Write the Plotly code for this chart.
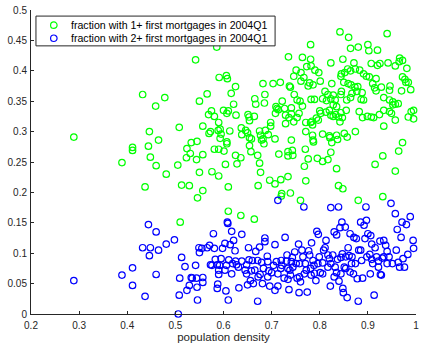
import plotly.graph_objects as go

# population density (x) and fraction of borrowers (y) per region
green_x = [0.842, 0.940, 0.860, 0.586, 0.781, 0.880, 0.900, 0.864, 0.920, 0.902,
           0.542, 0.735, 0.764, 0.781, 0.848, 0.966, 0.972, 0.823, 0.871, 0.907,
           0.925, 0.920, 0.942, 0.965, 0.957, 0.981, 0.773, 0.782, 0.751, 0.790,
           0.798, 0.858, 0.864, 0.874, 0.883, 0.852, 0.845, 0.844, 0.891, 0.897,
           0.903, 0.917, 0.972, 0.977, 0.984, 0.979, 0.761, 0.746, 0.767, 0.761,
           0.779, 0.786, 0.776, 0.801, 0.737, 0.739, 0.718, 0.703, 0.682, 0.591,
           0.606, 0.608, 0.625, 0.850, 0.859, 0.865, 0.825, 0.873, 0.879, 0.910,
           0.914, 0.928, 0.946, 0.945, 0.989, 0.970,
           0.432, 0.478, 0.459, 0.566, 0.550, 0.616, 0.621, 0.665, 0.667, 0.686,
           0.685, 0.747, 0.753, 0.759, 0.782, 0.789, 0.764, 0.722, 0.709, 0.714,
           0.727, 0.741, 0.811, 0.817, 0.828, 0.806, 0.814, 0.823, 0.832, 0.828,
           0.835, 0.844, 0.845, 0.856, 0.864, 0.867, 0.877, 0.888, 0.886, 0.891,
           0.917, 0.933, 0.945, 0.952, 0.957, 0.963, 0.952, 0.933, 0.995,
           0.575, 0.581, 0.569, 0.600, 0.607, 0.610, 0.626, 0.651, 0.653, 0.654,
           0.664, 0.557, 0.508, 0.446, 0.465, 0.590, 0.573, 0.570, 0.589, 0.593,
           0.595, 0.613, 0.637, 0.638, 0.646, 0.650, 0.654, 0.658, 0.675, 0.677,
           0.687, 0.682, 0.693, 0.698, 0.698, 0.707, 0.708, 0.711, 0.729, 0.729,
           0.736, 0.741, 0.746, 0.753, 0.757, 0.771, 0.781, 0.785, 0.784, 0.793,
           0.797, 0.800, 0.802, 0.813, 0.820, 0.823, 0.828, 0.833, 0.839, 0.842,
           0.847, 0.844, 0.855, 0.882, 0.889, 0.899, 0.907, 0.912, 0.924, 0.933,
           0.945, 0.949, 0.957, 0.984, 0.995, 0.806, 0.820, 0.821, 0.835, 0.837,
           0.851, 0.857, 0.874, 0.771, 0.785, 0.786, 0.787, 0.741, 0.743, 0.734,
           0.734, 0.744, 0.715, 0.770, 0.795, 0.806, 0.817, 0.823, 0.835, 0.839,
           0.848, 0.880, 0.931, 0.915, 0.931, 0.964, 0.972, 0.957, 0.990,
           0.289, 0.389, 0.411, 0.411, 0.437, 0.444, 0.448, 0.460, 0.481, 0.505,
           0.513, 0.510, 0.524, 0.529, 0.533, 0.523, 0.531, 0.544, 0.545, 0.550,
           0.557, 0.546, 0.557, 0.576, 0.581, 0.590, 0.590, 0.593, 0.601, 0.604,
           0.607, 0.607, 0.610, 0.610, 0.625, 0.628, 0.636, 0.636, 0.654, 0.657,
           0.664, 0.671, 0.675, 0.677, 0.672, 0.679, 0.684, 0.696, 0.707, 0.719,
           0.721, 0.734, 0.739, 0.720, 0.760, 0.771, 0.768, 0.776, 0.825]
green_y = [0.464, 0.461, 0.455, 0.439, 0.443, 0.439, 0.443, 0.437, 0.434, 0.433,
           0.418, 0.423, 0.422, 0.419, 0.419, 0.421, 0.417, 0.413, 0.413, 0.412,
           0.412, 0.409, 0.413, 0.415, 0.408, 0.404, 0.407, 0.408, 0.401, 0.401,
           0.397, 0.403, 0.400, 0.403, 0.401, 0.397, 0.395, 0.391, 0.395, 0.391,
           0.390, 0.387, 0.390, 0.386, 0.381, 0.381, 0.397, 0.391, 0.389, 0.383,
           0.380, 0.377, 0.375, 0.383, 0.375, 0.373, 0.381, 0.379, 0.379, 0.389,
           0.392, 0.387, 0.374, 0.381, 0.379, 0.377, 0.379, 0.373, 0.374, 0.379,
           0.372, 0.373, 0.375, 0.368, 0.369, 0.367,
           0.361, 0.356, 0.342, 0.362, 0.350, 0.363, 0.345, 0.354, 0.345, 0.361,
           0.347, 0.361, 0.352, 0.350, 0.353, 0.353, 0.342, 0.350, 0.341, 0.336,
           0.338, 0.339, 0.366, 0.361, 0.360, 0.354, 0.351, 0.354, 0.352, 0.344,
           0.341, 0.361, 0.366, 0.352, 0.356, 0.363, 0.366, 0.364, 0.353, 0.352,
           0.367, 0.356, 0.352, 0.349, 0.345, 0.346, 0.344, 0.335, 0.335,
           0.334, 0.325, 0.328, 0.335, 0.330, 0.334, 0.327, 0.328, 0.324, 0.318,
           0.325, 0.309, 0.307, 0.300, 0.286, 0.315, 0.300, 0.297, 0.302, 0.304,
           0.296, 0.301, 0.306, 0.295, 0.302, 0.298, 0.290, 0.288, 0.301, 0.294,
           0.302, 0.288, 0.295, 0.309, 0.315, 0.288, 0.330, 0.338, 0.327, 0.313,
           0.323, 0.329, 0.316, 0.323, 0.330, 0.315, 0.315, 0.311, 0.317, 0.322,
           0.319, 0.334, 0.330, 0.332, 0.335, 0.327, 0.325, 0.328, 0.324, 0.316,
           0.323, 0.331, 0.335, 0.333, 0.323, 0.325, 0.324, 0.323, 0.328, 0.309,
           0.333, 0.330, 0.319, 0.324, 0.321, 0.296, 0.293, 0.290, 0.294, 0.287,
           0.297, 0.291, 0.300, 0.300, 0.294, 0.286, 0.283, 0.286, 0.269, 0.267,
           0.260, 0.261, 0.263, 0.271, 0.256, 0.251, 0.254, 0.266, 0.239, 0.211,
           0.206, 0.187, 0.193, 0.246, 0.260, 0.268, 0.282, 0.235, 0.333,
           0.291, 0.249, 0.274, 0.269, 0.209, 0.276, 0.258, 0.244, 0.230, 0.245,
           0.212, 0.151, 0.272, 0.211, 0.282, 0.257, 0.264, 0.254, 0.284, 0.233,
           0.262, 0.191, 0.203, 0.234, 0.271, 0.271, 0.227, 0.289, 0.268, 0.246,
           0.283, 0.280, 0.209, 0.169, 0.261, 0.247, 0.257, 0.162, 0.277, 0.267,
           0.156, 0.261, 0.248, 0.233, 0.211, 0.286, 0.280, 0.220, 0.214, 0.221,
           0.198, 0.226, 0.199, 0.194, 0.187, 0.219, 0.243, 0.255, 0.282]

blue_x = [0.289, 0.389, 0.411, 0.411, 0.437, 0.432, 0.444, 0.448, 0.446, 0.460,
          0.465, 0.460, 0.481, 0.498, 0.506, 0.508, 0.509, 0.513, 0.520, 0.524,
          0.529, 0.533, 0.535, 0.542, 0.544, 0.545, 0.546, 0.549, 0.550, 0.555,
          0.557, 0.557, 0.566, 0.571, 0.573, 0.579, 0.581, 0.583, 0.587, 0.588,
          0.587, 0.590, 0.592, 0.595, 0.598, 0.603, 0.605, 0.606, 0.608, 0.609,
          0.610, 0.611, 0.614, 0.617, 0.621, 0.624, 0.625, 0.627, 0.632, 0.638,
          0.638, 0.645, 0.648, 0.650, 0.652, 0.653, 0.656, 0.658, 0.662, 0.667,
          0.671, 0.671, 0.675, 0.676, 0.681, 0.683, 0.686, 0.686, 0.691, 0.694,
          0.696, 0.700, 0.704, 0.707, 0.707, 0.710, 0.713, 0.713, 0.719, 0.721,
          0.726, 0.728, 0.731, 0.732, 0.734, 0.736, 0.738, 0.739, 0.743, 0.744,
          0.748, 0.751, 0.753, 0.756, 0.757, 0.760, 0.763, 0.765, 0.767, 0.768,
          0.770, 0.774, 0.777, 0.779, 0.781, 0.783, 0.786, 0.789, 0.792, 0.794,
          0.797, 0.799, 0.801, 0.806, 0.808, 0.811, 0.813, 0.817, 0.820, 0.822,
          0.823, 0.827, 0.830, 0.832, 0.835, 0.835, 0.837, 0.839, 0.840, 0.842,
          0.844, 0.846, 0.847, 0.848, 0.849, 0.851, 0.853, 0.854, 0.857, 0.859,
          0.861, 0.863, 0.866, 0.870, 0.871, 0.876, 0.878, 0.880, 0.881, 0.885,
          0.887, 0.889, 0.892, 0.894, 0.896, 0.897, 0.900, 0.904, 0.906, 0.908,
          0.910, 0.913, 0.915, 0.918, 0.922, 0.925, 0.926, 0.930, 0.933, 0.937,
          0.940, 0.944, 0.948, 0.951, 0.957, 0.959, 0.961, 0.963, 0.966, 0.969,
          0.971, 0.973, 0.976, 0.980, 0.983, 0.988, 0.994, 0.995,
          0.576, 0.619, 0.631, 0.660, 0.679, 0.692, 0.720, 0.741, 0.758, 0.772,
          0.788, 0.796, 0.817, 0.823, 0.854, 0.867, 0.874, 0.885, 0.898, 0.908,
          0.922, 0.933, 0.940, 0.928, 0.905, 0.863, 0.844, 0.830, 0.806, 0.782,
          0.758, 0.734, 0.713, 0.692, 0.672, 0.665, 0.648, 0.617, 0.603, 0.590]
blue_y = [0.055, 0.064, 0.076, 0.047, 0.029, 0.109, 0.147, 0.109, 0.096, 0.135,
          0.105, 0.065, 0.115, 0.122, 0.000, 0.031, 0.059, 0.093, 0.078, 0.039,
          0.047, 0.060, 0.059, 0.080, 0.059, 0.044, 0.023, 0.109, 0.101, 0.108,
          0.060, 0.052, 0.109, 0.113, 0.081, 0.132, 0.108, 0.090, 0.081, 0.049,
          0.042, 0.065, 0.080, 0.091, 0.108, 0.116, 0.038, 0.080, 0.151, 0.149,
          0.023, 0.089, 0.114, 0.136, 0.121, 0.104, 0.087, 0.081, 0.043, 0.131,
          0.087, 0.072, 0.081, 0.048, 0.109, 0.089, 0.055, 0.071, 0.050, 0.103,
          0.088, 0.021, 0.110, 0.065, 0.050, 0.075, 0.125, 0.119, 0.095, 0.071,
          0.046, 0.068, 0.080, 0.114, 0.039, 0.086, 0.187, 0.046, 0.075, 0.080,
          0.059, 0.126, 0.087, 0.097, 0.057, 0.040, 0.072, 0.064, 0.093, 0.077,
          0.102, 0.083, 0.059, 0.115, 0.035, 0.053, 0.105, 0.094, 0.176, 0.066,
          0.083, 0.036, 0.104, 0.097, 0.075, 0.117, 0.088, 0.067, 0.055, 0.136,
          0.131, 0.094, 0.068, 0.084, 0.105, 0.109, 0.121, 0.077, 0.091, 0.046,
          0.175, 0.097, 0.135, 0.077, 0.130, 0.068, 0.090, 0.176, 0.054, 0.142,
          0.093, 0.151, 0.099, 0.042, 0.035, 0.077, 0.143, 0.075, 0.027, 0.109,
          0.096, 0.132, 0.083, 0.066, 0.126, 0.124, 0.058, 0.021, 0.105, 0.151,
          0.088, 0.059, 0.146, 0.124, 0.176, 0.154, 0.132, 0.098, 0.129, 0.115,
          0.083, 0.031, 0.109, 0.094, 0.077, 0.120, 0.065, 0.092, 0.121, 0.113,
          0.103, 0.094, 0.182, 0.083, 0.165, 0.105, 0.139, 0.085, 0.077, 0.126,
          0.151, 0.091, 0.077, 0.147, 0.098, 0.160, 0.121, 0.108,
          0.080, 0.083, 0.077, 0.088, 0.085, 0.086, 0.088, 0.086, 0.083, 0.072,
          0.080, 0.083, 0.097, 0.083, 0.094, 0.094, 0.083, 0.105, 0.094, 0.090,
          0.087, 0.094, 0.083, 0.064, 0.066, 0.069, 0.066, 0.061, 0.066, 0.064,
          0.061, 0.075, 0.066, 0.061, 0.061, 0.072, 0.066, 0.066, 0.072, 0.072]

series_names = ["fraction with 1+ first mortgages in 2004Q1",
                "fraction with 2+ first mortgages in 2004Q1"]
series_colors = ["#00ff00", "#0000ff"]
x_ticks = [0.2, 0.3, 0.4, 0.5, 0.6, 0.7, 0.8, 0.9, 1.0]
x_tick_labels = ["0.2", "0.3", "0.4", "0.5", "0.6", "0.7", "0.8", "0.9", "1"]
y_ticks = [0, 0.05, 0.1, 0.15, 0.2, 0.25, 0.3, 0.35, 0.4, 0.45, 0.5]
y_tick_labels = ["0", "0.05", "0.1", "0.15", "0.2", "0.25", "0.3", "0.35",
                 "0.4", "0.45", "0.5"]

axis_color = "#262626"
font_family = "Liberation Sans, Arial, sans-serif"
marker_size = 6.5
marker_line = 1.2

fig = go.Figure()
for xs, ys, name, color in zip([green_x, blue_x], [green_y, blue_y],
                               series_names, series_colors):
    fig.add_trace(go.Scatter(
        x=xs, y=ys, mode="markers", name=name, showlegend=False,
        marker=dict(symbol="circle-open", size=marker_size, color=color,
                    line=dict(width=marker_line, color=color)),
        cliponaxis=False,
    ))

axis_common = dict(
    showgrid=False, zeroline=False, showline=True, linecolor=axis_color,
    linewidth=1, ticks="inside", ticklen=3, tickwidth=1, tickcolor=axis_color,
    tickfont=dict(family=font_family, size=10, color=axis_color),
    ticklabeloverflow="allow", mirror=False,
)

# compact boxed legend in the upper-left corner (paper coordinates)
legend_left, legend_right = 0.0129, 0.634
legend_top, legend_bottom = 0.980, 0.882
row_y = [0.950, 0.907]
symbol_x = 0.0593
text_x = 0.1005

shapes = [dict(type="rect", xref="paper", yref="paper",
               x0=legend_left, x1=legend_right, y0=legend_bottom, y1=legend_top,
               line=dict(color=axis_color, width=1), fillcolor="white", layer="above")]
annotations = []
r = marker_size / 2
for name, color, ry in zip(series_names, series_colors, row_y):
    shapes.append(dict(type="circle", xref="paper", yref="paper",
                       xsizemode="pixel", ysizemode="pixel",
                       xanchor=symbol_x, yanchor=ry,
                       x0=-r, x1=r, y0=-r, y1=r,
                       line=dict(color=color, width=marker_line), layer="above"))
    annotations.append(dict(text=name, xref="paper", yref="paper",
                            x=text_x, y=ry, xanchor="left", yanchor="middle",
                            showarrow=False, borderpad=0,
                            font=dict(family=font_family, size=10.6, color="#000000")))

fig.update_layout(
    width=422, height=345,
    margin=dict(l=31, r=3, t=10, b=31),
    paper_bgcolor="white", plot_bgcolor="white",
    font=dict(family=font_family, color=axis_color),
    xaxis=dict(range=[0.2, 1.0], tickvals=x_ticks, ticktext=x_tick_labels,
               ticklabelstandoff=2,
               title=dict(text="population density", standoff=1,
                          font=dict(family=font_family, size=11.5, color=axis_color)),
               **axis_common),
    yaxis=dict(range=[0, 0.5], tickvals=y_ticks, ticktext=y_tick_labels,
               ticklabelstandoff=1,
               **axis_common),
    shapes=shapes,
    annotations=annotations,
    showlegend=False,
)

fig.write_html("out.html")
